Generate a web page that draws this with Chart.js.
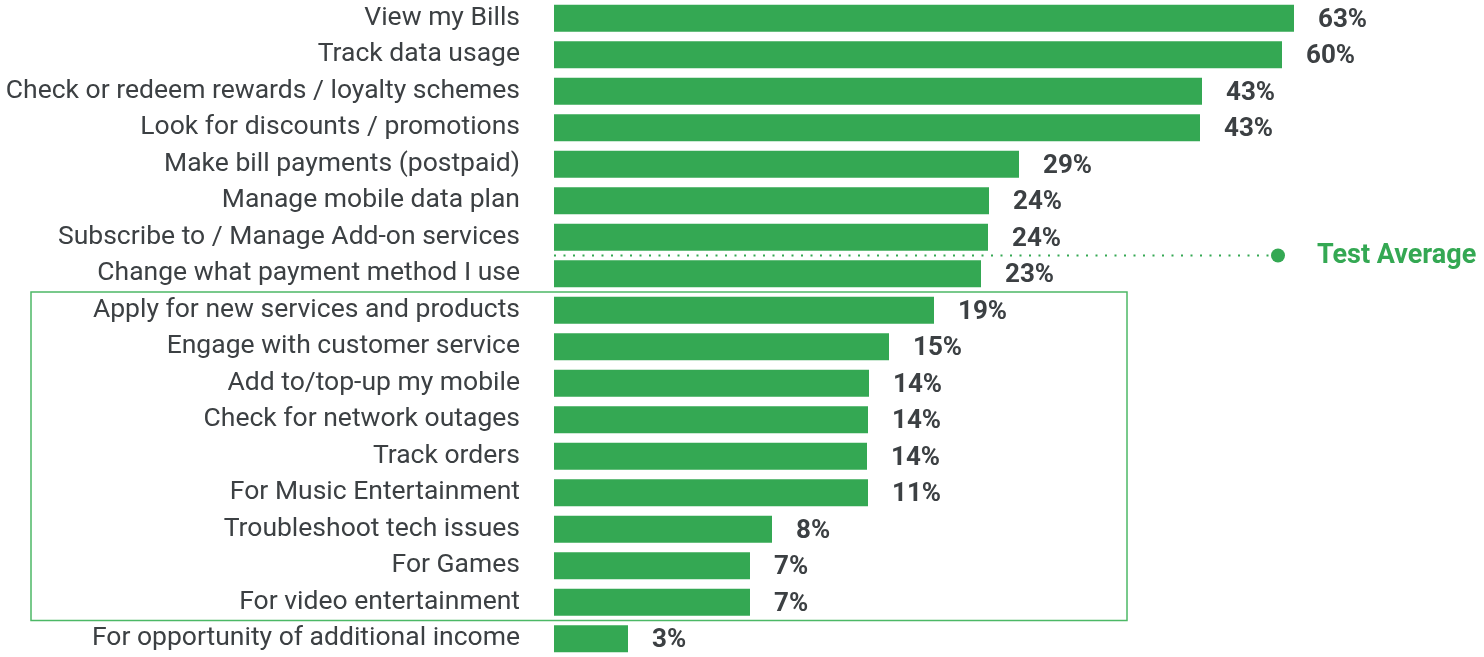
<!DOCTYPE html>
<html>
<head>
<meta charset="utf-8">
<script src="https://cdn.jsdelivr.net/npm/chart.js@4"></script>
<style>
  html, body { margin: 0; padding: 0; background: #fff; }
  #wrap { width: 1484px; height: 657px; position: relative; }
</style>
</head>
<body>
<div id="wrap"><canvas id="usageChart"></canvas></div>
<script>
const categories = [
  'View my Bills',
  'Track data usage',
  'Check or redeem rewards / loyalty schemes',
  'Look for discounts / promotions',
  'Make bill payments (postpaid)',
  'Manage mobile data plan',
  'Subscribe to / Manage Add-on services',
  'Change what payment method I use',
  'Apply for new services and products',
  'Engage with customer service',
  'Add to/top-up my mobile',
  'Check for network outages',
  'Track orders',
  'For Music Entertainment',
  'Troubleshoot tech issues',
  'For Games',
  'For video entertainment',
  'For opportunity of additional income'
];
// bar lengths as drawn (not proportional to the printed labels)
const barValues = [740, 728, 648, 646, 465, 435, 434, 427, 380, 335, 315, 314, 313, 314, 218, 196, 196, 74];
const valueLabels = ['63%', '60%', '43%', '43%', '29%', '24%', '24%', '23%', '19%', '15%', '14%', '14%', '14%', '11%', '8%', '7%', '7%', '3%'];
const averageRow = 6.5;      // between "Subscribe to..." and "Change what..."
const boxRows = [7.5, 16.5]; // highlighted group

const green = '#34a853';
const textGray = '#3c4043';

const extrasPlugin = {
  id: 'extras',
  afterDatasetsDraw(chart) {
    const { ctx, scales: { x, y } } = chart;
    const meta = chart.getDatasetMeta(0);
    ctx.save();
    // value labels
    ctx.font = 'bold 26px Roboto';
    ctx.fillStyle = textGray;
    ctx.textAlign = 'left';
    ctx.textBaseline = 'middle';
    meta.data.forEach((bar, i) => {
      ctx.fillText(valueLabels[i], bar.x + 24, bar.y + 2);
    });
    // test average line
    const ay = y.getPixelForValue(averageRow);
    ctx.strokeStyle = green;
    ctx.lineWidth = 2;
    ctx.setLineDash([2, 7.5]);
    ctx.beginPath();
    ctx.moveTo(x.left, ay);
    ctx.lineTo(1278, ay);
    ctx.stroke();
    ctx.setLineDash([]);
    ctx.fillStyle = green;
    ctx.beginPath();
    ctx.arc(1278, ay, 7, 0, Math.PI * 2);
    ctx.fill();
    ctx.font = 'bold 27px Roboto';
    ctx.fillText('Test Average', 1317, ay + 1);
    // highlight box
    const top = y.getPixelForValue(boxRows[0]);
    const bottom = y.getPixelForValue(boxRows[1]);
    ctx.strokeStyle = '#4cb866';
    ctx.lineWidth = 1.5;
    ctx.strokeRect(31, top, 1127 - 31, bottom - top);
    ctx.restore();
  }
};

new Chart(document.getElementById('usageChart'), {
  type: 'bar',
  data: {
    labels: categories,
    datasets: [{
      data: barValues,
      backgroundColor: green,
      borderWidth: 0,
      barPercentage: 0.74,
      categoryPercentage: 1
    }]
  },
  options: {
    indexAxis: 'y',
    responsive: true,
    maintainAspectRatio: false,
    animation: false,
    layout: { padding: { top: -2, bottom: -1, left: 0, right: 0 } },
    plugins: {
      legend: { display: false },
      tooltip: { enabled: false }
    },
    scales: {
      x: {
        min: 0,
        max: 930,
        display: false
      },
      y: {
        grid: { display: false, drawTicks: false },
        border: { display: false },
        ticks: {
          color: textGray,
          font: { family: 'Roboto', size: 26.5 },
          padding: 34,
          autoSkip: false
        },
        afterFit(scale) {
          scale.width = 554;
          scale.paddingTop = 0;
          scale.paddingBottom = 0;
        }
      }
    }
  },
  plugins: [extrasPlugin]
});
</script>
</body>
</html>
